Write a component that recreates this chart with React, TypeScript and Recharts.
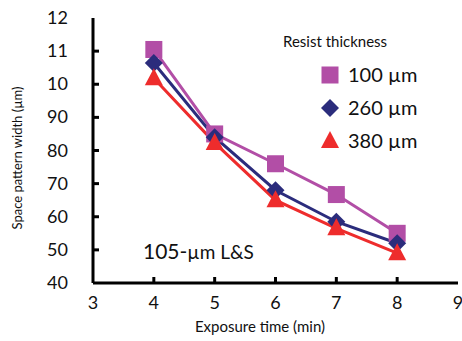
import React from "react";
import {
  LineChart,
  Line,
  XAxis,
  YAxis,
  Customized,
} from "recharts";

const exposureTimes = [4, 5, 6, 7, 8];
const width100 = [110.5, 85, 76, 66.7, 55];
const width260 = [106.4, 84, 68, 58.5, 52];
const width380 = [101.8, 82.3, 65, 56.5, 49];

const xTicks = [3, 4, 5, 6, 7, 8, 9];
const yTicks = [40, 50, 60, 70, 80, 90, 100, 110, 120];
// the source figure shows the hundreds cut to two digits
const yTickLabels = ["40", "50", "60", "70", "80", "90", "10", "11", "12"];

const seriesNames = ["100 µm", "260 µm", "380 µm"];
const COLORS = ["#B24EA6", "#2B2C7C", "#EE2C2C"];

const data = exposureTimes.map((t, i) => ({
  time: t,
  w100: width100[i],
  w260: width260[i],
  w380: width380[i],
}));

const FONT = "Lato, 'Open Sans', sans-serif";

const Square = (props: any) => {
  const { cx, cy, fill } = props;
  if (cx == null || cy == null) return null;
  return <rect x={cx - 8.5} y={cy - 8.5} width={17} height={17} fill={fill} />;
};

const Diamond = (props: any) => {
  const { cx, cy, fill } = props;
  if (cx == null || cy == null) return null;
  const r = 9;
  return (
    <polygon
      points={`${cx},${cy - r} ${cx + r},${cy} ${cx},${cy + r} ${cx - r},${cy}`}
      fill={fill}
    />
  );
};

const Triangle = (props: any) => {
  const { cx, cy, fill } = props;
  if (cx == null || cy == null) return null;
  return (
    <polygon
      points={`${cx},${cy - 10} ${cx + 9},${cy + 7} ${cx - 9},${cy + 7}`}
      fill={fill}
    />
  );
};

const shapes = [Square, Diamond, Triangle];

const XTick = (props: any) => {
  const { x, y, payload } = props;
  const edge = payload.value === 3 || payload.value === 9;
  return (
    <g>
      {!edge && <line x1={x} x2={x} y1={y} y2={y - 6} stroke="#000" strokeWidth={3} />}
      <text x={x} y={y + 26} textAnchor="middle" fontSize={18} fill="#111" fontFamily={FONT}>
        {payload.value}
      </text>
    </g>
  );
};

const YTick = (props: any) => {
  const { x, y, payload } = props;
  const edge = payload.value === 40 || payload.value === 120;
  const idx = yTicks.indexOf(payload.value);
  return (
    <g>
      {!edge && <line x1={x} x2={x + 6} y1={y} y2={y} stroke="#000" strokeWidth={3} />}
      <text x={x - 25} y={y + 6} textAnchor="end" fontSize={18} fill="#111" fontFamily={FONT}>
        {yTickLabels[idx]}
      </text>
    </g>
  );
};

const Labels = () => (
  <g fontFamily={FONT} fill="#111">
    <text x={17} y={158} fontSize={13} textAnchor="middle" transform="rotate(-90 17 158)" dominantBaseline="central">
      Space pattern width (µm)
    </text>
    <text x={260} y={332} fontSize={15} textAnchor="middle">
      Exposure time (min)
    </text>
    <text x={143} y={259}>
      <tspan fontSize={21}>105-</tspan>
      <tspan fontSize={19}>µm L&amp;S</tspan>
    </text>
    <text x={283} y={47} fontSize={15}>
      Resist thickness
    </text>
    {seriesNames.map((name, i) => {
      const cy = 75 + i * 33;
      const Shape = shapes[i];
      return (
        <g key={name}>
          <Shape cx={330} cy={cy} fill={COLORS[i]} />
          <text x={348} y={cy + 7} fontSize={20}>
            {name}
          </text>
        </g>
      );
    })}
  </g>
);

export default function App() {
  const keys = ["w100", "w260", "w380"];
  return (
    <div style={{ position: "absolute", left: 0, top: 0, background: "#fff" }}>
      <LineChart
        width={462}
        height={341}
        data={data}
        margin={{ top: 18, right: 4, bottom: 0, left: 0 }}
      >
        <XAxis
          dataKey="time"
          type="number"
          domain={[3, 9]}
          ticks={xTicks}
          interval={0}
          height={58}
          tickSize={0}
          tickMargin={0}
          tick={<XTick />}
          axisLine={{ stroke: "#000", strokeWidth: 3 }}
        />
        <XAxis
          xAxisId="top"
          orientation="top"
          dataKey="time"
          type="number"
          domain={[3, 9]}
          height={0}
          tick={false}
          tickLine={false}
          axisLine={{ stroke: "#000", strokeWidth: 3 }}
        />
        <YAxis
          type="number"
          domain={[40, 120]}
          ticks={yTicks}
          interval={0}
          width={93}
          tickSize={0}
          tickMargin={0}
          tick={<YTick />}
          axisLine={{ stroke: "#000", strokeWidth: 3 }}
        />
        <YAxis
          yAxisId="right"
          orientation="right"
          type="number"
          domain={[40, 120]}
          width={0}
          tick={false}
          tickLine={false}
          axisLine={{ stroke: "#000", strokeWidth: 3 }}
        />
        {keys.map((k, i) => {
          const Shape = shapes[i];
          return (
            <Line
              key={k}
              dataKey={k}
              type="linear"
              stroke={COLORS[i]}
              strokeWidth={3}
              dot={(p: any) => <Shape key={`${k}-${p.index}`} cx={p.cx} cy={p.cy} fill={COLORS[i]} />}
              activeDot={false}
              isAnimationActive={false}
            />
          );
        })}
        <Customized component={Labels} />
      </LineChart>
    </div>
  );
}
